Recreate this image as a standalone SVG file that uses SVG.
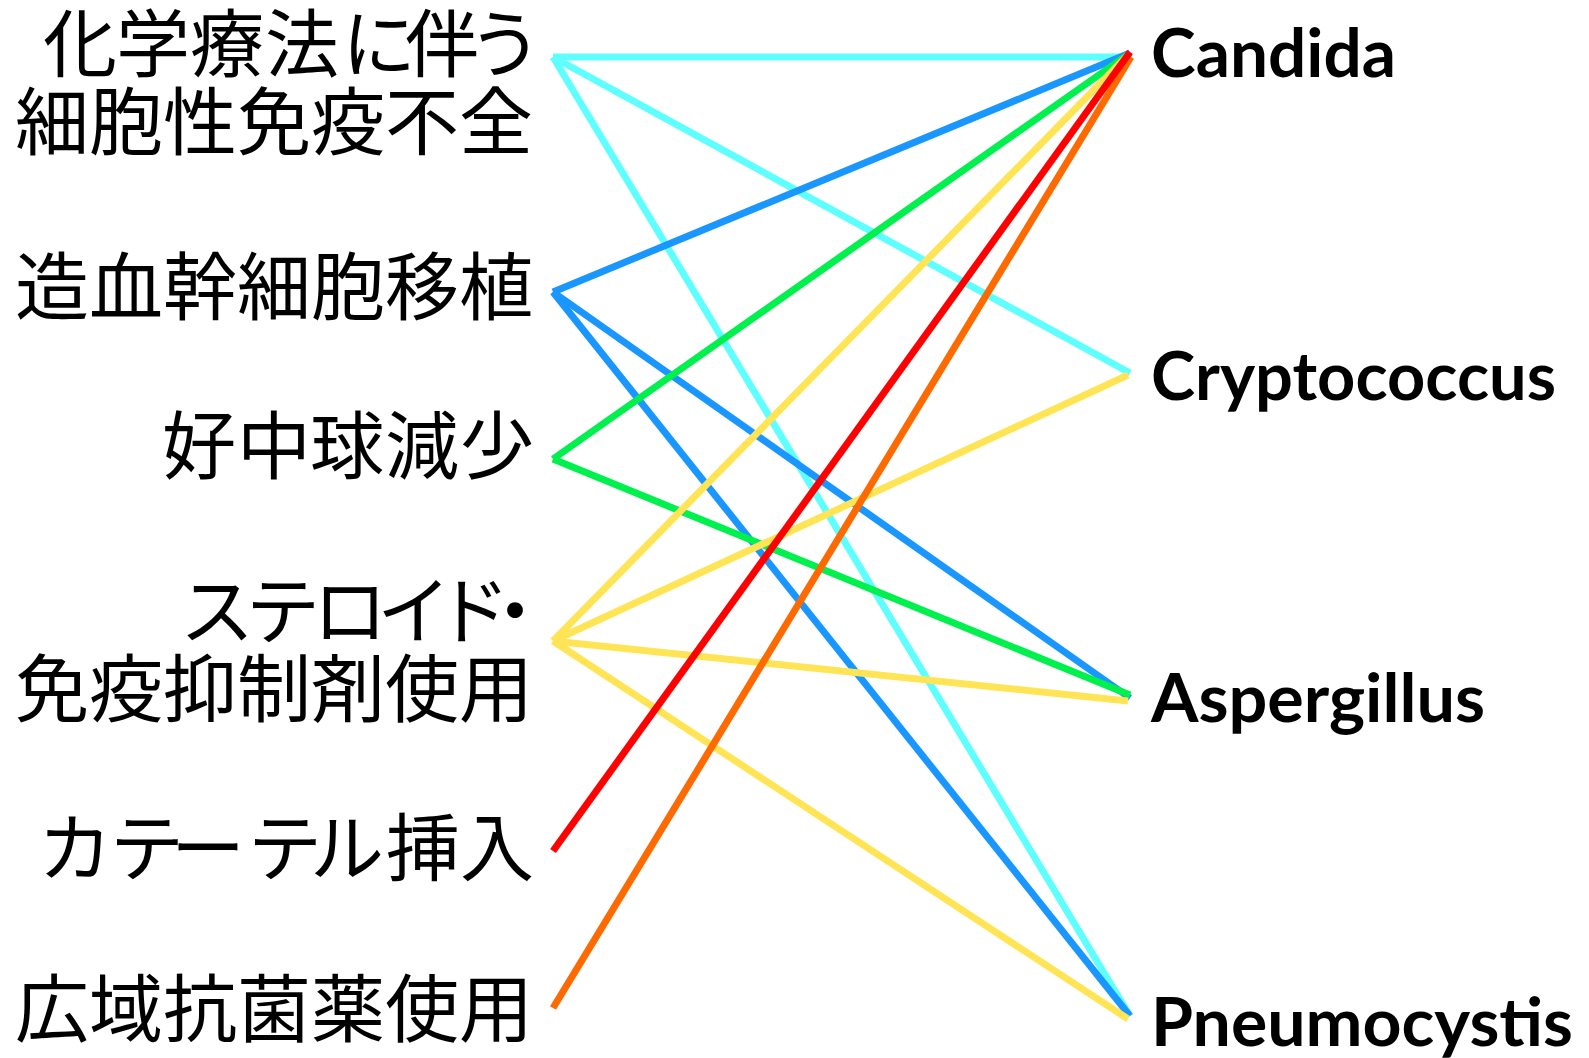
<svg xmlns="http://www.w3.org/2000/svg" width="1589" height="1058" viewBox="0 0 1589 1058">
<style>
.jp{font-family:"Noto Sans CJK JP","Noto Sans CJK SC",sans-serif;font-size:74px;fill:#000;text-anchor:end}
.js{font-family:"Noto Sans CJK JP","Noto Sans CJK SC",sans-serif;font-size:74px;fill:#000;text-anchor:start}
.en{font-family:Lato,"Liberation Sans",sans-serif;font-weight:bold;font-size:66px;fill:#000}
.c{fill:none;stroke-width:7;stroke-linecap:butt}
.cy{stroke:#5FFFFF}.bl{stroke:#1A96FF}.gr{stroke:#00F04E}.ye{stroke:#FFE556}.rd{stroke:#FF0000}.or{stroke:#FF6A00}
</style>
<rect width="1589" height="1058" fill="#fff"/>
<g id="connectors">
<line class="c cy" x1="553" y1="57" x2="1130" y2="57"/>
<line class="c cy" x1="553" y1="57" x2="1130" y2="373"/>
<line class="c cy" x1="553" y1="57" x2="1130" y2="1016"/>
<line class="c bl" x1="553" y1="292" x2="1130" y2="53"/>
<line class="c bl" x1="553" y1="292" x2="1130" y2="698"/>
<line class="c bl" x1="553" y1="292" x2="1130" y2="1016"/>
<line class="c gr" x1="553" y1="459" x2="1130" y2="53"/>
<line class="c gr" x1="553" y1="459" x2="1130" y2="695"/>
<line class="c ye" x1="553" y1="641" x2="1128" y2="55"/>
<line class="c ye" x1="553" y1="641" x2="1128" y2="375"/>
<line class="c ye" x1="553" y1="641" x2="1128" y2="701"/>
<line class="c ye" x1="553" y1="641" x2="1128" y2="1019"/>
<line class="c or" x1="553" y1="1008" x2="1131" y2="57"/>
<line class="c rd" x1="553" y1="851" x2="1130" y2="52"/>
</g>
<g id="chemo"><text class="js" x="43 116 190 265 342 405 468" y="71">化学療法に伴う</text><text class="jp" x="533" y="149">細胞性免疫不全</text></g>
<g id="hsct"><text class="jp" x="533" y="314">造血幹細胞移植</text></g>
<g id="neutropenia"><text class="js" x="162 237 310 385 460" y="473">好中球減少</text></g>
<g id="steroid"><text class="js" x="180 246 313 377 436 478" y="638">ステロイド・</text><text class="jp" x="533" y="716">免疫抑制剤使用</text></g>
<g id="catheter"><text class="js" x="38 110 171 248 310 386 460" y="875">カテーテル挿入</text></g>
<g id="antibiotics"><text class="jp" x="533" y="1036">広域抗菌薬使用</text></g>
<g id="candida"><text class="en" x="1151" y="77" textLength="245" lengthAdjust="spacingAndGlyphs">Candida</text></g>
<g id="cryptococcus"><text class="en" x="1151" y="400" textLength="405" lengthAdjust="spacingAndGlyphs">Cryptococcus</text></g>
<g id="aspergillus"><text class="en" x="1151" y="722" textLength="334" lengthAdjust="spacingAndGlyphs">Aspergillus</text></g>
<g id="pneumocystis"><text class="en" x="1151" y="1046" textLength="422" lengthAdjust="spacingAndGlyphs">Pneumocystis</text></g>
</svg>
